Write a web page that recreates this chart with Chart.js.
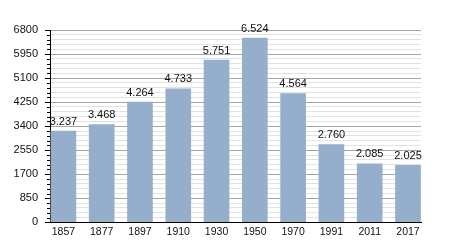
<!DOCTYPE html>
<html>
<head>
<meta charset="utf-8">
<script src="https://cdn.jsdelivr.net/npm/chart.js@4"></script>
<style>
  html, body { margin: 0; padding: 0; background: #fff; }
  #wrap { width: 450px; height: 250px; }
</style>
</head>
<body>
<div id="wrap"><canvas id="chart"></canvas></div>
<script>
const years = ['1857', '1877', '1897', '1910', '1930', '1950', '1970', '1991', '2011', '2017'];
const population = [3237, 3468, 4264, 4733, 5751, 6524, 4564, 2760, 2085, 2025];
const yMax = 6800;
const majorStep = 850;
const minorStep = 170;

// thousands with a dot, e.g. 3.237
function fmt(v) {
    return String(v).replace(/\B(?=(\d{3})+(?!\d))/g, '.');
}

const isMajor = (v) => v % majorStep === 0;

const valueLabels = {
    id: 'valueLabels',
    afterDatasetsDraw(chart) {
        const ctx = chart.ctx;
        const meta = chart.getDatasetMeta(0);
        ctx.save();
        ctx.font = '11px "Liberation Sans", Arial, sans-serif';
        ctx.fillStyle = '#111';
        ctx.textAlign = 'center';
        ctx.textBaseline = 'alphabetic';
        meta.data.forEach((bar, i) => {
            ctx.fillText(fmt(population[i]), bar.x, bar.y - 6);
        });
        ctx.restore();
    }
};

// short tick marks for the minor steps on the y axis
const minorTicks = {
    id: 'minorTicks',
    afterDraw(chart) {
        const y = chart.scales.y;
        const ctx = chart.ctx;
        ctx.save();
        ctx.strokeStyle = '#000';
        ctx.lineWidth = 1;
        ctx.beginPath();
        y.ticks.forEach((t) => {
            if (isMajor(t.value)) return;
            const py = Math.round(y.getPixelForValue(t.value)) + 0.5;
            ctx.moveTo(y.right - 3, py);
            ctx.lineTo(y.right, py);
        });
        ctx.stroke();
        ctx.restore();
    }
};

const font = { family: '"Liberation Sans", Arial, sans-serif', size: 11 };

new Chart(document.getElementById('chart').getContext('2d'), {
    type: 'bar',
    data: {
        datasets: [{
            data: population.map((v, i) => ({ x: i, y: v })),
            backgroundColor: '#95aecb',
            borderWidth: 0,
            barPercentage: 0.67,
            categoryPercentage: 1.0
        }]
    },
    options: {
        responsive: true,
        maintainAspectRatio: false,
        animation: false,
        layout: { padding: { left: 8, right: 29, top: 30, bottom: 9 } },
        plugins: {
            legend: { display: false },
            tooltip: { enabled: false }
        },
        scales: {
            x: {
                type: 'linear',
                min: -0.35,
                max: 9.34,
                offset: false,
                afterBuildTicks(scale) {
                    scale.ticks = years.map((_, i) => ({ value: i }));
                },
                grid: { display: false, drawTicks: false, offset: false },
                border: { display: true, color: '#000', width: 1 },
                ticks: {
                    color: '#111',
                    padding: 3,
                    font: { family: font.family, size: 10.5 },
                    callback: (v) => years[v]
                }
            },
            y: {
                min: 0,
                max: yMax,
                afterFit(scale) { scale.width = 42; },
                border: { display: true, color: '#000', width: 1 },
                grid: {
                    color: (c) => (c.tick && isMajor(c.tick.value)) ? '#a4a4a4' : '#e2e2e2',
                    tickColor: (c) => (c.tick && isMajor(c.tick.value)) ? '#000' : 'rgba(0,0,0,0)',
                    tickLength: 5
                },
                ticks: {
                    stepSize: minorStep,
                    autoSkip: false,
                    color: '#111',
                    padding: 7,
                    font: font,
                    callback: (v) => (isMajor(v) ? String(v) : '')
                }
            }
        }
    },
    plugins: [valueLabels, minorTicks]
});
</script>
</body>
</html>
